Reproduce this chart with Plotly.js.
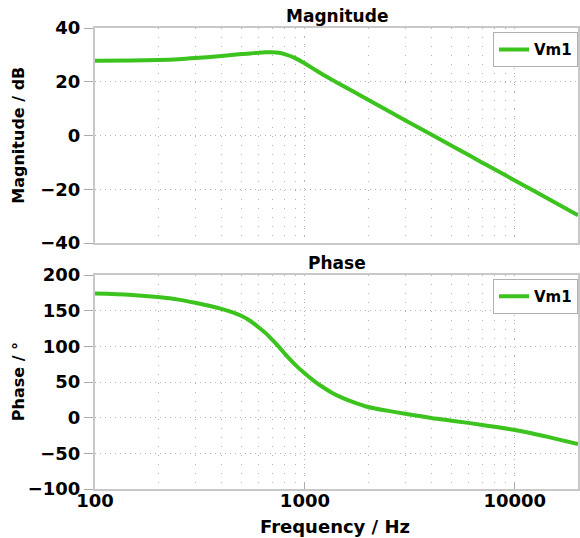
<!DOCTYPE html>
<html>
<head>
<meta charset="utf-8">
<script src="https://cdn.plot.ly/plotly-3.0.1.min.js"></script>
<style>html,body{margin:0;padding:0;background:#fff;}#chart{width:580px;height:538px;}</style>
</head>
<body>
<div id="chart"></div>
<script>
// Frequency (Hz)
const freq = [100, 150, 200, 250, 300, 400, 450, 500, 550, 600, 650, 700, 750, 800, 900, 1000, 1100, 1200, 1350, 1500, 1700, 2000, 2500, 3000, 4000, 5000, 6000, 7000, 8000, 10000, 12000, 15000, 20000];
// Magnitude (dB)
const magnitude = [27.8, 27.9, 28.1, 28.4, 28.8, 29.6, 29.95, 30.3, 30.55, 30.8, 30.95, 31.0, 30.8, 30.3, 28.8, 26.8, 24.8, 23.0, 20.7, 18.7, 16.35, 13.3, 9.1, 5.7, 0.35, -3.8, -7.2, -10.1, -12.6, -16.7, -20.1, -24.3, -29.7];
// Phase (degrees)
const phase = [174, 172, 169, 165.5, 161, 152.5, 148, 142.5, 135.5, 127, 118.5, 109, 99.5, 90, 74, 62, 52, 44, 34.7, 28.2, 21.8, 15, 9.5, 5.4, -0.4, -4.2, -7.3, -10.2, -12.8, -17.3, -21.8, -28.3, -37];
const seriesName = "Vm1";
const xTickVals = [100, 1000, 10000];
const xTickText = ["100", "1000", "10000"];
const magTicks = [-40, -20, 0, 20, 40];
const phaseTicks = [-100, -50, 0, 50, 100, 150, 200];

const FONT = "DejaVu Sans, Verdana, sans-serif";
const green = "#3cc31e";
const gridCol = "#b4b4b4";
const lineCol = "#c8c8c8";

const traces = [
  {x: freq, y: magnitude, type: "scatter", mode: "lines", name: seriesName,
   line: {color: green, width: 4, shape: "spline", smoothing: 1}, xaxis: "x", yaxis: "y", legend: "legend"},
  {x: freq, y: phase, type: "scatter", mode: "lines", name: seriesName,
   line: {color: green, width: 4, shape: "spline", smoothing: 1}, xaxis: "x2", yaxis: "y2", legend: "legend2"}
];

const tickFont = {family: FONT, size: 18, color: "#000", weight: "bold"};
const baseX = {
  type: "log", range: [2, Math.log10(20000)],
  tickvals: xTickVals, ticktext: xTickText,
  showgrid: true, gridcolor: gridCol, griddash: "1px,7px", gridwidth: 1,
  minor: {dtick: "D1", showgrid: true, gridcolor: gridCol, griddash: "1px,8px", gridwidth: 1, ticks: ""},
  showline: true, mirror: true, linecolor: lineCol, linewidth: 2,
  ticks: "inside", ticklen: 6, tickcolor: "#aaa", tickfont: tickFont,
  zeroline: false
};
const baseY = {
  showgrid: true, gridcolor: gridCol, griddash: "1px,4px", gridwidth: 1,
  showline: true, mirror: true, linecolor: lineCol, linewidth: 2,
  ticks: "outside", ticklen: 9, tickcolor: "#aaa", tickfont: tickFont,
  zeroline: false
};

const layout = {
  width: 580, height: 538,
  margin: {l: 95, r: 2, t: 28, b: 49},
  paper_bgcolor: "#fff", plot_bgcolor: "#fff",
  font: {family: FONT, size: 16, color: "#000", weight: "bold"},
  showlegend: true,
  xaxis: Object.assign({}, baseX, {domain: [0, 1], anchor: "y", showticklabels: false, ticks: ""}),
  yaxis: Object.assign({}, baseY, {domain: [0.5336, 1], anchor: "x", range: [-40, 40], tickvals: magTicks}),
  xaxis2: Object.assign({}, baseX, {domain: [0, 1], anchor: "y2", ticklabelstandoff: -6}),
  yaxis2: Object.assign({}, baseY, {domain: [0, 0.4642], anchor: "x2", range: [-100, 200], tickvals: phaseTicks}),
  legend: {x: 1, xanchor: "right", y: 0.991, yanchor: "top", bgcolor: "#fff", bordercolor: "#b0b0b0", borderwidth: 1,
    font: {family: FONT, size: 15, weight: "bold"}, itemwidth: 30, tracegroupgap: 0},
  legend2: {x: 1, xanchor: "right", y: 0.4555, yanchor: "top", bgcolor: "#fff", bordercolor: "#b0b0b0", borderwidth: 1,
    font: {family: FONT, size: 15, weight: "bold"}, itemwidth: 30, tracegroupgap: 0},
  annotations: [
    {text: "Magnitude", xref: "paper", yref: "paper", x: 0.5, y: 1, yanchor: "bottom", showarrow: false,
     font: {family: FONT, size: 17, weight: "bold"}},
    {text: "Phase", xref: "paper", yref: "paper", x: 0.5, y: 0.4642, yanchor: "bottom", showarrow: false,
     font: {family: FONT, size: 17, weight: "bold"}},
    {text: "Magnitude / dB", xref: "paper", yref: "paper", x: -0.159, xanchor: "center", y: 0.7668, yanchor: "middle",
     textangle: -90, showarrow: false, font: {family: FONT, size: 16, weight: "bold"}},
    {text: "Phase / °", xref: "paper", yref: "paper", x: -0.159, xanchor: "center", y: 0.2321, yanchor: "middle",
     textangle: -90, showarrow: false, font: {family: FONT, size: 16, weight: "bold"}},
    {text: "Frequency / Hz", xref: "paper", yref: "paper", x: 0.4975, xanchor: "center", y: -0.081, yanchor: "middle",
     showarrow: false, font: {family: FONT, size: 18, weight: "bold"}}
  ]
};

Plotly.newPlot("chart", traces, layout, {displayModeBar: false, staticPlot: true});
</script>
</body>
</html>
